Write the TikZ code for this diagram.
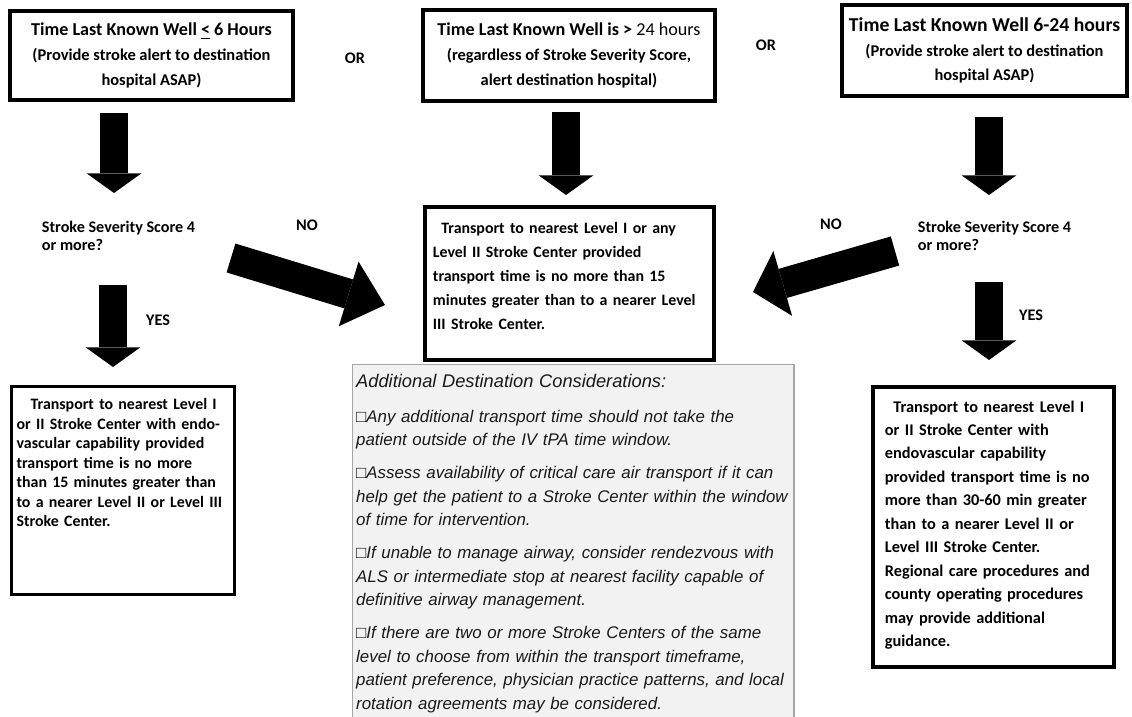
\documentclass[tikz,border=0pt]{standalone}
\usepackage{fontspec}
\setmainfont{Carlito}
\newfontfamily\notefont{Liberation Sans}
\usetikzlibrary{arrows.meta, positioning}

\begin{document}
\begin{tikzpicture}[
    x=0.025cm, y=-0.025cm,
    box/.style={rectangle, draw=black, line width=2.2pt, fill=white, font=\bfseries\fontsize{11.3}{17}\selectfont},
    topbox/.style={box, align=center, inner sep=2pt, font=\bfseries\fontsize{11.7}{17.5}\selectfont},
    textbox/.style={box, align=left, anchor=north west, inner ysep=5pt},
    note/.style={rectangle, draw=black!35, line width=1pt, fill=black!5, align=left, anchor=north west, inner xsep=2.5pt, inner ysep=5.4pt, text=black!90, font=\notefont\itshape\fontsize{12}{16.7}\selectfont},
    lbl/.style={font=\bfseries\fontsize{11.5}{12.8}\selectfont},
    bigarrow/.style={line width=20pt, -{Triangle[width=39pt, length=14pt, line width=0pt]}},
    slantarrow/.style={line width=21.5pt, -{Triangle[width=48pt, length=#1, line width=0pt]}},
    slantarrow/.default=24pt
]
\useasboundingbox (0,0) rectangle (1132,717);

% Top row - time last known well
\node[topbox, minimum width=7.075cm, minimum height=2.225cm] (lkwshort) at (151.5,55.5)
    {{\fontsize{12.9}{17}\selectfont Time Last Known Well \underline{<} 6 Hours}\\(Provide stroke alert to destination\\hospital ASAP)};
\node[topbox, minimum width=7.3cm, minimum height=2.275cm] (lkwlong) at (569,55.5)
    {{\fontsize{12.9}{17}\selectfont Time Last Known Well is > {\mdseries 24 hours}}\\(regardless of Stroke Severity Score,\\alert destination hospital)};
\node[topbox, line width=3pt, minimum width=7.125cm, minimum height=2.275cm] (lkwmid) at (984.5,50.5)
    {{\fontsize{14}{18}\selectfont Time Last Known Well 6-24 hours}\\(Provide stroke alert to destination\\hospital ASAP)};
\node[lbl] (orleft) at (355,58) {OR};
\node[lbl] (orright) at (766,45) {OR};

% Severity questions
\node[lbl, align=left, anchor=west] (sevleft) at (37,236) {Stroke Severity Score 4\\or more?};
\node[lbl, align=left, anchor=west] (sevright) at (913,236) {Stroke Severity Score 4\\or more?};
\node[lbl] (noleft) at (307,225) {NO};
\node[lbl] (noright) at (831,224) {NO};
\node[lbl] (yesleft) at (158,320) {YES};
\node[lbl] (yesright) at (1031,315) {YES};

% Destination boxes
\node[textbox, line width=2.8pt, text width=6.825cm, inner xsep=5.7pt, text height=14pt, text depth=84.8pt] (anycenter) at (423,205)
    {\hspace*{6pt}Transport to nearest Level I or any\\Level II Stroke Center provided\\transport time is no more than 15\\minutes greater than to a nearer Level\\III Stroke Center.};
\node[textbox, text width=5.325cm, inner xsep=3.6pt, text height=11.4pt, text depth=126.6pt, font=\bfseries\fontsize{11.3}{13.9}\selectfont] (endoshort) at (10,385)
    {\hspace*{10pt}Transport to nearest Level I\\or II Stroke Center with endo-\\vascular capability provided\\transport time is no more\\than 15 minutes greater than\\to a nearer Level II or Level III\\Stroke Center.};
\node[textbox, line width=2.8pt, text width=5.425cm, inner xsep=8.5pt, text height=12.8pt, text depth=176.4pt, font=\bfseries\fontsize{11.6}{16.7}\selectfont] (endolong) at (871,385)
    {\hspace*{6pt}Transport to nearest Level I\\or II Stroke Center with\\endovascular capability\\provided transport time is no\\more than 30-60 min greater\\than to a nearer Level II or\\Level III Stroke Center.\\Regional care procedures and\\county operating procedures\\may provide additional\\guidance.};

% Considerations
\node[note, text width=10.85cm, text height=11pt, text depth=235pt] (extra) at (352,364)
    {{\fontsize{13}{16.7}\selectfont Additional Destination Considerations:}\\[7.8pt]
     {\upshape □}Any additional transport time should not take the\\patient outside of the IV tPA time window.\\[6.8pt]
     {\upshape □}Assess availability of critical care air transport if it can\\help get the patient to a Stroke Center within the window\\of time for intervention.\\[6.8pt]
     {\upshape □}If unable to manage airway, consider rendezvous with\\ALS or intermediate stop at nearest facility capable of\\definitive airway management.\\[6.8pt]
     {\upshape □}If there are two or more Stroke Centers of the same\\level to choose from within the transport timeframe,\\patient preference, physician practice patterns, and local\\rotation agreements may be considered.};

% Arrows
\coordinate (s1) at (114,113);  \coordinate (e1) at (114,193);
\coordinate (s2) at (566,112);  \coordinate (e2) at (566,195);
\coordinate (s3) at (989,117);  \coordinate (e3) at (989,195);
\coordinate (s4) at (113,285);  \coordinate (e4) at (113,367);
\coordinate (s5) at (989,282);  \coordinate (e5) at (989,360);
\coordinate (s6) at (231,258);  \coordinate (e6) at (385,305);
\coordinate (s7) at (895,251);  \coordinate (e7) at (753,292);
\draw[bigarrow] (s1) -- (e1);
\draw[bigarrow] (s2) -- (e2);
\draw[bigarrow] (s3) -- (e3);
\draw[bigarrow] (s4) -- (e4);
\draw[bigarrow] (s5) -- (e5);
\draw[slantarrow=27pt] (s6) -- (e6);
\draw[slantarrow=22pt] (s7) -- (e7);

\end{tikzpicture}
\end{document}
